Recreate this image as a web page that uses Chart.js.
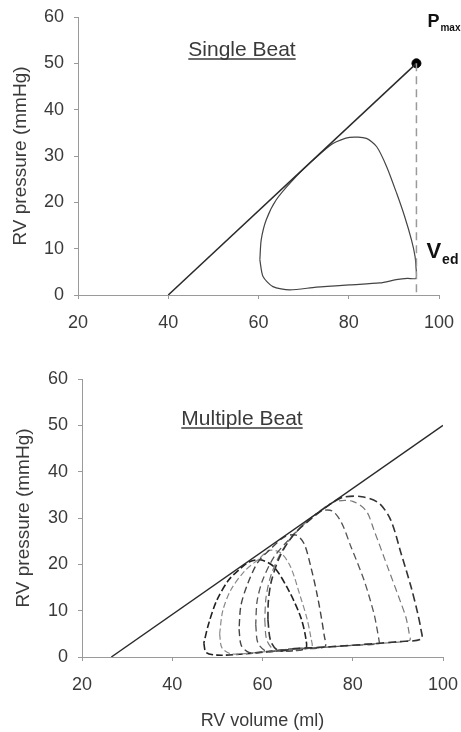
<!DOCTYPE html>
<html>
<head>
<meta charset="utf-8">
<script src="https://cdn.jsdelivr.net/npm/chart.js@4.4.1/dist/chart.umd.min.js"></script>
<style>
  html, body { margin: 0; padding: 0; background: #fff; width: 461px; height: 732px; overflow: hidden; }
  #topChart { position: absolute; left: 0; top: 0; }
  #bottomChart { position: absolute; left: 0; top: 330px; }
</style>
</head>
<body>
<canvas id="topChart" width="461" height="336"></canvas>
<canvas id="bottomChart" width="461" height="402"></canvas>
<script>
// axis ticks
const volumeTicks = [20, 40, 60, 80, 100];
const pressureTicks = [0, 10, 20, 30, 40, 50, 60];

// single beat
const singleEspvrVolume = [40, 95];
const singleEspvrPressure = [0, 50];
const singleLoopVolume = [60.3, 61.0, 63.2, 66.9, 72.8, 80.2, 86.9, 90.5, 93.0, 94.9, 94.9, 94.7, 93.9, 92.4, 90.6, 88.4, 86.2, 83.9, 80.2, 76.5, 72.1, 67.6, 63.9, 61.7, 60.6, 60.3];
const singleLoopPressure = [7.6, 4.0, 1.8, 1.1, 1.7, 2.2, 2.6, 3.3, 3.6, 3.6, 6.0, 8.3, 11.9, 16.9, 22.0, 27.7, 32.0, 33.8, 34.0, 32.7, 29.1, 24.8, 20.5, 16.2, 11.9, 7.6];
const pmaxVolume = [95];
const pmaxPressure = [50];
const vedVolume = [95, 95];
const vedPressure = [50, 0];

// multiple beat
const multiEspvrVolume = [26.5, 100];
const multiEspvrPressure = [0, 50];
const loop1Volume = [61.2, 61.8, 63.5, 67, 75, 85, 90, 95.2, 95.1, 94.4, 92.9, 90.7, 88.4, 85.8, 82, 78, 75, 71, 67, 64, 62, 61.3, 61.2];
const loop1Pressure = [8, 3.5, 1.4, 1.8, 2.2, 2.9, 3.3, 3.9, 6, 9.4, 15.2, 22.4, 29.6, 33.2, 34.6, 34.5, 33, 30, 26.5, 22, 16.5, 12, 8];
const loop2Volume = [60.5, 61, 63, 67, 75, 85, 92.6, 92.5, 91.8, 90.7, 87.7, 84.7, 83, 80, 76, 72, 68, 64.5, 62, 60.8, 60.5];
const loop2Pressure = [8, 3.5, 1.3, 1.8, 2.2, 2.9, 3.6, 5.1, 8.5, 11.6, 19.5, 27.4, 31.5, 33.6, 33.5, 31, 27.5, 23.2, 18, 13, 8];
const loop3Volume = [58.5, 59, 61, 65, 72, 80, 85.8, 85.8, 85.3, 84.7, 82.5, 79.6, 77.5, 75.5, 73, 69.5, 66, 62.5, 60, 58.8, 58.5];
const loop3Pressure = [7, 3, 1.2, 1.6, 2, 2.5, 2.9, 3.7, 6.5, 9.4, 16.6, 23.8, 29, 31.5, 31.5, 29, 25.5, 21.5, 16.5, 12, 7];
const loop4Volume = [54.8, 55.3, 57, 61, 67, 73.8, 73.7, 72.2, 70.7, 69.2, 67.5, 65, 62, 59, 56.6, 55.2, 54.8];
const loop4Pressure = [6, 2.5, 1, 1.2, 1.8, 2.2, 4.5, 13, 19.5, 24.5, 26.3, 26, 23.5, 20.5, 15.5, 11, 6];
const loop5Volume = [50.5, 51, 53, 57, 63, 70.8, 70.7, 69.8, 68.4, 66.2, 64, 61.5, 59, 56, 53, 51.2, 50.5];
const loop5Pressure = [5, 2, 0.7, 0.8, 1.4, 2, 4.3, 8.5, 13, 19.5, 22.5, 23, 21, 18.5, 14.5, 10, 5];
const loop6Volume = [47, 47.5, 50, 55, 62, 69.5, 69.6, 68.5, 66, 62.5, 59.5, 57, 55.1, 52.5, 49.9, 48.1, 47];
const loop6Pressure = [3, 1, 0.4, 0.6, 1.2, 1.8, 4, 8.5, 14, 19.5, 21, 20.5, 19.1, 16.6, 12.3, 7.3, 3];

const toPoints = (xs, ys) => xs.map((x, i) => ({ x, y: ys[i] }));

const FONT = '"Liberation Sans", Arial, sans-serif';
const TEXT = '#3a3a3a';
const AXIS = '#9a9a9a';

const notesPlugin = {
    id: 'notes',
    afterDatasetsDraw(chart, args, opts) {
        const ctx = chart.ctx;
        const xs = chart.scales.x, ys = chart.scales.y;
        ctx.save();
        ctx.fillStyle = TEXT;
        ctx.textBaseline = 'alphabetic';
        if (opts.title) {
            const t = opts.title;
            ctx.font = `21px ${FONT}`;
            ctx.textAlign = 'center';
            ctx.fillText(t.text, t.x, t.y);
            const w = ctx.measureText(t.text).width;
            ctx.strokeStyle = TEXT;
            ctx.lineWidth = 1.3;
            ctx.beginPath();
            ctx.moveTo(t.x - w / 2, t.y + 3);
            ctx.lineTo(t.x + w / 2, t.y + 3);
            ctx.stroke();
        }
        (opts.labels || []).forEach(l => {
            const px = xs.getPixelForValue(l.at[0]);
            const py = ys.getPixelForValue(l.at[1]);
            ctx.textAlign = 'left';
            ctx.fillStyle = '#111';
            ctx.font = `bold ${l.size}px ${FONT}`;
            ctx.fillText(l.main, px + l.dx, py + l.dy);
            const w = ctx.measureText(l.main).width;
            ctx.font = `bold ${l.subSize}px ${FONT}`;
            ctx.fillText(l.sub, px + l.dx + w + 1, py + l.dy + l.subDy);
        });
        ctx.restore();
    }
};

// fixed axis boxes so the plot area lands where the original has it
const makeScales = (yWidth, xHeight, yTitlePad, xTitle) => ({
    x: {
        type: 'linear', min: 20, max: 100,
        afterBuildTicks: s => { s.ticks = volumeTicks.map(v => ({ value: v })); },
        afterFit: s => { s.height = xHeight; s.paddingLeft = 0; s.paddingRight = 0; },
        ticks: { color: TEXT, font: { family: FONT, size: 18 }, padding: 13 },
        grid: { display: true, drawOnChartArea: false, tickLength: 4, color: AXIS },
        border: { color: AXIS, width: 1 },
        title: xTitle ? { display: true, text: xTitle, color: TEXT, font: { family: FONT, size: 18 }, padding: { top: 0, bottom: 0 } } : { display: false }
    },
    y: {
        type: 'linear', min: 0, max: 60,
        afterBuildTicks: s => { s.ticks = pressureTicks.map(v => ({ value: v })); },
        afterFit: s => { s.width = yWidth; s.paddingTop = 0; s.paddingBottom = 0; },
        ticks: { color: TEXT, font: { family: FONT, size: 18 }, padding: 10 },
        grid: { display: true, drawOnChartArea: false, tickLength: 4, color: AXIS },
        border: { color: AXIS, width: 1 },
        title: { display: true, text: 'RV pressure (mmHg)', color: TEXT, font: { family: FONT, size: 19 }, padding: { top: yTitlePad, bottom: 0 } }
    }
});

const lineSet = (data, color, width, dash, tension) => ({
    data, showLine: true, borderColor: color, borderWidth: width, borderDash: dash || [],
    pointRadius: 0, tension: tension || 0, fill: false
});

const baseOptions = (padding, scales, notes) => ({
    responsive: false,
    animation: false,
    layout: { padding },
    plugins: { legend: { display: false }, tooltip: { enabled: false }, notes },
    scales
});

new Chart(document.getElementById('topChart'), {
    type: 'scatter',
    data: {
        datasets: [
            lineSet(toPoints(vedVolume, vedPressure), '#9a9a9a', 1.5, [8, 5]),
            lineSet(toPoints(singleEspvrVolume, singleEspvrPressure), '#2a2a2a', 1.5),
            lineSet(toPoints(singleLoopVolume, singleLoopPressure), '#444', 1.2, [], 0.25),
            { data: toPoints(pmaxVolume, pmaxPressure), pointRadius: 4.5, pointBackgroundColor: '#000', pointBorderColor: '#000', showLine: false }
        ]
    },
    options: baseOptions({ top: 17, right: 22, left: 0, bottom: 0 }, makeScales(78, 41, 9, null), {
        title: { text: 'Single Beat', x: 242, y: 56 },
        labels: [
            { at: [95, 50], main: 'P', sub: 'max', size: 18, subSize: 10, dx: 11, dy: -36, subDy: 4 },
            { at: [95, 8], main: 'V', sub: 'ed', size: 22, subSize: 14, dx: 10, dy: 0, subDy: 6 }
        ]
    }),
    plugins: [notesPlugin]
});

new Chart(document.getElementById('bottomChart'), {
    type: 'scatter',
    data: {
        datasets: [
            lineSet(toPoints(multiEspvrVolume, multiEspvrPressure), '#2a2a2a', 1.4),
            lineSet(toPoints(loop1Volume, loop1Pressure), '#333', 1.6, [8, 4], 0.3),
            lineSet(toPoints(loop2Volume, loop2Pressure), '#777', 1.2, [7, 4], 0.3),
            lineSet(toPoints(loop3Volume, loop3Pressure), '#555', 1.3, [7, 4], 0.3),
            lineSet(toPoints(loop4Volume, loop4Pressure), '#444', 1.4, [7, 4], 0.3),
            lineSet(toPoints(loop5Volume, loop5Pressure), '#8a8a8a', 1.2, [6, 3], 0.3),
            lineSet(toPoints(loop6Volume, loop6Pressure), '#222', 1.6, [7, 3], 0.3)
        ]
    },
    options: baseOptions({ top: 49, right: 18, left: 0, bottom: 0 }, makeScales(82, 75, 12, 'RV volume (ml)'), {
        title: { text: 'Multiple Beat', x: 242, y: 95 }
    }),
    plugins: [notesPlugin]
});
</script>
</body>
</html>
